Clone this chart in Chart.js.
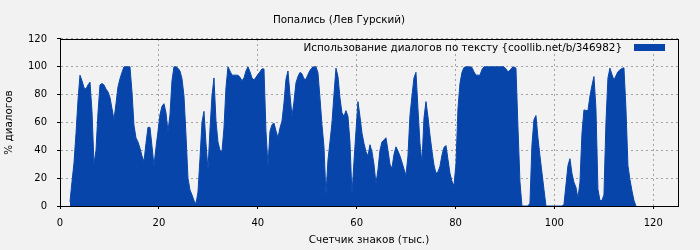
<!DOCTYPE html>
<html>
<head>
<meta charset="utf-8">
<script src="https://cdn.jsdelivr.net/npm/chart.js@4/dist/chart.umd.min.js"></script>
<style>
  html, body { margin: 0; padding: 0; background: #f2f2f2; }
  #wrap { width: 700px; height: 250px; }
</style>
</head>
<body>
<div id="wrap"><canvas id="c" width="700" height="250"></canvas></div>
<script>
// Chart texts
const chartTitle = 'Попались (Лев Гурский)';
const seriesLabel = 'Использование диалогов по тексту {coollib.net/b/346982}';
const xTitle = 'Счетчик знаков (тыс.)';
const yTitle = '% диалогов';

// X sampling of the series (thousands of characters)
const xStart = 2.02;
const xStep = 0.4045;

// % of dialogues
const dialogPct = [
  3, 17.5, 31, 52, 76, 94, 90, 85, 84, 87,
  89, 68, 30, 40, 67, 87, 88, 87, 84, 82,
  78, 70, 62, 73.5, 85.5, 91.5, 96, 100, 100, 100,
  100, 82, 58, 49, 46, 41.5, 36, 32, 45, 56.5,
  56.5, 43, 29, 42, 53.5, 65.6, 71.6, 73.5, 67, 53.5,
  65.6, 90, 100, 100, 99, 97, 91.5, 79, 51, 20,
  11.5, 8, 4, 1.5, 10, 34, 60, 68, 45, 26,
  55, 79, 92, 61, 46, 40, 39, 56, 85, 100,
  97, 94, 94, 94, 94, 92.5, 90, 92, 97, 100,
  96.4, 92, 90.5, 92.5, 94.5, 96.4, 98.5, 98.5, 53.6, 29,
  53.6, 58.4, 59.6, 54, 49, 56, 61, 74, 91, 97,
  80, 64.4, 75, 88.5, 93, 96, 95, 91.3, 91, 94.5,
  97.4, 99.3, 100, 100, 95.7, 77.6, 58.4, 42.8, 8, 33,
  46, 59.6, 80, 99, 93, 77.6, 67, 64.4, 68.5, 64.4,
  46, 8, 32, 53.6, 75, 64.4, 52.4, 45, 39, 36,
  44, 39, 30, 16, 26, 40, 46, 47.5, 49, 40,
  30, 27, 37, 42.5, 39.5, 36, 31.5, 26.5, 22, 36,
  65, 79, 92, 96, 70, 45, 31, 63, 75, 64,
  51, 39.5, 29.5, 23.5, 24.5, 28.5, 36.5, 42, 43.5, 33.5,
  23.5, 17.8, 14.5, 30, 70, 88, 96, 99.5, 100, 100,
  100, 99.5, 96.4, 94, 94, 94, 98, 100, 100, 100,
  100, 100, 100, 100, 100, 100, 100, 100, 98.5, 96.4,
  97.5, 99.3, 100, 99, 57, 17.5, 0, 0, 0, 0,
  2, 44, 62, 65, 49, 36, 24, 12, 0, 0,
  0, 0, 0, 0, 0, 0, 0, 1, 15, 29,
  34, 23.5, 17, 13.5, 5.5, 17, 52, 69, 68.7, 68.5,
  79, 86.5, 93, 70, 12, 4, 4, 8, 60, 92,
  99, 94.5, 90.5, 93.5, 96.5, 97.8, 98.8, 99.3, 70, 29,
  19, 11, 4, 0
];

// Axis settings
const xTicks = { min: 0, max: 125, step: 20 };
const yTicks = { min: 0, max: 120, step: 20 };

const points = dialogPct.map((v, i) => ({ x: +(xStart + i * xStep).toFixed(3), y: v }));

const FONT = 'DejaVu Sans';
const BLUE = '#0845aa';
const GRID = '#a3a3a3';

const framePlugin = {
  id: 'frameAndLegend',
  afterDraw(chart) {
    const { ctx, chartArea: a } = chart;
    ctx.save();
    ctx.strokeStyle = '#000';
    ctx.lineWidth = 1;
    ctx.strokeRect(Math.round(a.left) + 0.5, Math.round(a.top) + 0.5,
                   Math.round(a.right) - Math.round(a.left), Math.round(a.bottom) - Math.round(a.top));
    // legend inside the plot, swatch on the right
    const ds = chart.data.datasets[0];
    ctx.fillStyle = ds.backgroundColor;
    ctx.fillRect(Math.round(a.right) - 44, Math.round(a.top) + 5, 31, 7);
    ctx.fillStyle = '#000';
    ctx.font = '10.4px "' + FONT + '"';
    ctx.textAlign = 'right';
    ctx.textBaseline = 'middle';
    ctx.fillText(ds.label, Math.round(a.right) - 56, Math.round(a.top) + 9);
    ctx.restore();
  }
};

new Chart(document.getElementById('c'), {
  type: 'line',
  data: {
    datasets: [{
      label: seriesLabel,
      data: points,
      backgroundColor: BLUE,
      borderColor: BLUE,
      borderWidth: 1,
      fill: 'origin',
      pointRadius: 0,
      tension: 0
    }]
  },
  options: {
    responsive: false,
    animation: false,
    devicePixelRatio: 1,
    layout: { padding: { left: 0, right: 22, top: 0, bottom: 0 } },
    plugins: {
      legend: { display: false },
      tooltip: { enabled: false },
      title: {
        display: true,
        text: chartTitle,
        color: '#000',
        font: { family: FONT, size: 10.4, weight: 'normal' },
        padding: { top: 14, bottom: 12.5 }
      }
    },
    scales: {
      x: {
        type: 'linear',
        min: xTicks.min,
        max: xTicks.max,
        afterFit(s) { s.height = 44; },
        ticks: {
          stepSize: xTicks.step,
          includeBounds: false,
          color: '#000',
          font: { family: FONT, size: 10 },
          padding: 8,
          maxRotation: 0
        },
        grid: { color: GRID, tickColor: '#000', tickLength: 3, tickBorderDash: [] },
        border: { color: '#000', dash: [2, 3] },
        title: {
          display: true,
          text: xTitle,
          color: '#000',
          font: { family: FONT, size: 10.4 },
          padding: { top: 0, bottom: 3 }
        }
      },
      y: {
        min: yTicks.min,
        max: yTicks.max,
        afterFit(s) { s.width = 60; },
        ticks: {
          stepSize: yTicks.step,
          color: '#000',
          font: { family: FONT, size: 10 },
          padding: 10
        },
        grid: { color: GRID, tickColor: '#000', tickLength: 3, tickBorderDash: [] },
        border: { color: '#000', dash: [2, 3] },
        title: {
          display: true,
          text: yTitle,
          color: '#000',
          font: { family: FONT, size: 10.4 },
          padding: { top: 3, bottom: 0 }
        }
      }
    }
  },
  plugins: [framePlugin]
});
</script>
</body>
</html>
